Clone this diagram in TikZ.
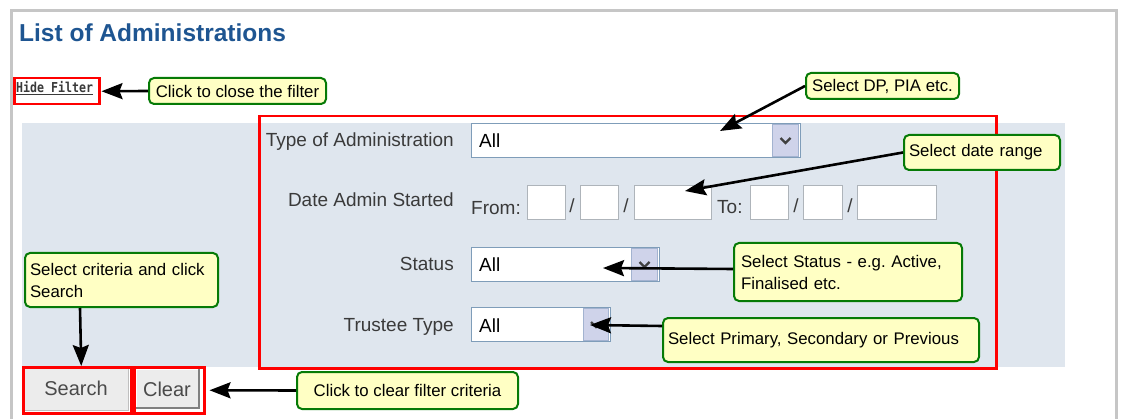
\documentclass[tikz,border=0pt]{standalone}
\usepackage{fontspec}
\setmainfont{Liberation Sans}
\newfontfamily\linkfont{DejaVu Sans Mono}
\usetikzlibrary{arrows.meta}
\frenchspacing

\definecolor{framegray}{HTML}{C6C6C6}
\definecolor{panelbg}{HTML}{DFE6EE}
\definecolor{titleblue}{HTML}{1E5591}
\definecolor{labelgray}{HTML}{3A3A3A}
\definecolor{ddborder}{HTML}{7F9DB9}
\definecolor{ddbtnfill}{HTML}{CFD3EA}
\definecolor{ddbtnborder}{HTML}{A3B3D0}
\definecolor{fieldborder}{HTML}{AEB4BA}
\definecolor{notefill}{HTML}{FFFFC4}
\definecolor{notegreen}{HTML}{067A06}
\definecolor{markred}{HTML}{FF0000}
\definecolor{btnfill}{HTML}{ECECEC}
\definecolor{btntext}{HTML}{4A4A4A}

\begin{document}
\begin{tikzpicture}[x=1pt,y=-1pt,
  lbl/.style={inner sep=0pt, text=labelgray, font=\fontsize{19}{22}\selectfont},
  val/.style={inner sep=0pt, text=black, font=\fontsize{19}{22}\selectfont},
  dd/.style={draw=ddborder, line width=1pt, fill=white, inner sep=0pt, anchor=north west},
  ddbtn/.style={draw=ddbtnborder, line width=1pt, fill=ddbtnfill, inner sep=0pt, anchor=north east},
  chev/.style={draw=black!75, line width=2.4pt},
  datefield/.style={draw=fieldborder, line width=1pt, fill=white, inner sep=0pt,
    anchor=north west, minimum height=34pt},
  note/.style={draw=notegreen, line width=2pt, fill=notefill, rounded corners=5pt,
    anchor=north west, inner xsep=5pt, inner ysep=0pt, align=left,
    font=\fontsize{16.8}{22}\selectfont},
  redmark/.style={draw=markred, line width=2.5pt, inner sep=0pt, anchor=north west},
  pointer/.style={draw=black, line width=2.6pt,
    -{Stealth[length=21pt, width=16pt, inset=3pt]}},
  btnlabel/.style={inner sep=0pt, text=btntext, font=\fontsize{20}{24}\selectfont}
]
\useasboundingbox (0,0) rectangle (1123,419);

% page frame
\draw[framegray, line width=3pt] (11,425) -- (11,11) -- (1116,11) -- (1116,425);

% heading
\node[anchor=base west, inner sep=0pt, text=titleblue,
      font=\fontsize{24.5}{28}\selectfont\bfseries] (title) at (19,42) {List of Administrations};

% filter panel
\fill[panelbg] (22,123) rectangle (1065,367);

% hide filter link
\node[anchor=base west, inner sep=0pt, text=labelgray,
      font=\linkfont\bfseries\fontsize{11.6}{14}\selectfont] (hideText) at (16,93)
      {\underline{\scalebox{1}[1.18]{Hide Filter}}};
\node[redmark, minimum width=85pt, minimum height=26pt] (hideBox) at (13,77) {};

% ---- row: type of administration
\node[lbl, anchor=base east] (typeLbl) at (454,147) {Type of Administration};
\node[dd, minimum width=329pt, minimum height=34pt] (typeBox) at (471,123) {};
\node[ddbtn, minimum width=26pt, minimum height=32pt] (typeBtn) at (799,124) {};
\draw[chev] (typeBtn.center) ++(-5,-2.5) -- ++(5,5) -- ++(5,-5);
\node[val, anchor=base west] (typeVal) at (479,148) {All};

% ---- row: date admin started
\node[lbl, anchor=base east] (dateLbl) at (454,207) {Date Admin Started};
\node[lbl, anchor=base west] (fromLbl) at (471,215) {From:};
\node[datefield, minimum width=38pt] (fromD) at (527,185) {};
\node[lbl, anchor=base] (sepA) at (572,213) {/};
\node[datefield, minimum width=38pt] (fromM) at (580,185) {};
\node[lbl, anchor=base] (sepB) at (626,213) {/};
\node[datefield, minimum width=77pt] (fromY) at (634,185) {};
\node[lbl, anchor=base west] (toLbl) at (717,214) {To:};
\node[datefield, minimum width=38pt] (toD) at (750,185) {};
\node[lbl, anchor=base] (sepC) at (796,213) {/};
\node[datefield, minimum width=39pt] (toM) at (803,185) {};
\node[lbl, anchor=base] (sepD) at (850,213) {/};
\node[datefield, minimum width=79pt] (toY) at (857,185) {};

% ---- row: status
\node[lbl, anchor=base east] (statusLbl) at (454,271) {Status};
\node[dd, minimum width=188pt, minimum height=34pt] (statusBox) at (471,247) {};
\node[ddbtn, minimum width=26pt, minimum height=32pt] (statusBtn) at (658,248) {};
\draw[chev] (statusBtn.center) ++(-5,-2.5) -- ++(5,5) -- ++(5,-5);
\node[val, anchor=base west] (statusVal) at (479,272) {All};

% ---- row: trustee type
\node[lbl, anchor=base east] (trusteeLbl) at (454,331) {Trustee Type};
\node[dd, minimum width=139pt, minimum height=34pt] (trusteeBox) at (471,307) {};
\node[ddbtn, minimum width=25pt, minimum height=32pt] (trusteeBtn) at (609,308) {};
\draw[chev] (trusteeBtn.center) ++(-5,-2.5) -- ++(5,5) -- ++(5,-5);
\node[val, anchor=base west] (trusteeVal) at (479,332) {All};

% filter criteria outline
\node[redmark, minimum width=737pt, minimum height=252pt] (filterBox) at (258,115) {};

% ---- buttons
\fill[btnfill] (24,368) rectangle (128,410);
\draw[black!25, line width=1pt] (24,368) rectangle (128,410);
\node[btnlabel] (searchText) at (76,388) {Search};
\node[redmark, minimum width=108pt, minimum height=46pt] (searchBox) at (22,366) {};

\fill[btnfill] (136,369) rectangle (199,408);
\draw[white, line width=1.5pt] (136,408) -- (136,369) -- (199,369);
\draw[black!50, line width=2.5pt] (136,408) -- (199,408) -- (199,369);
\node[btnlabel] (clearText) at (167,389) {Clear};
\node[redmark, minimum width=70pt, minimum height=46pt] (clearBox) at (133,366) {};

% ---- callouts
\node[note, minimum width=177pt, minimum height=26pt] (hideNote) at (148,77) {Click to close the filter};
\node[note, minimum width=153pt, minimum height=26pt] (dpNote) at (805,72) {Select DP, PIA etc.};
\node[note, minimum width=156pt, minimum height=35pt, text width=146pt] (dateNote) at (903,134) {Select date range};
\node[note, minimum width=227pt, minimum height=58pt, text width=214pt, inner xsep=7pt] (statusNote) at (733,242)
  {Select Status - e.g. Active,\\Finalised etc.};
\node[note, minimum width=316pt, minimum height=44pt, text width=306pt] (trusteeNote) at (662,317)
  {Select Primary, Secondary or Previous};
\node[note, minimum width=193pt, minimum height=54pt, text width=183pt] (searchNote) at (24,252)
  {Select criteria and click\\Search};
\node[note, minimum width=221pt, minimum height=37pt, align=center] (clearNote) at (296,371)
  {Click to clear filter criteria};

% ---- pointers
\coordinate (dpTip) at (720,131);
\coordinate (dateTip) at (685,191);
\coordinate (statusTip) at (603,268);
\coordinate (trusteeTip) at (590,325);

\draw[pointer] (hideNote.west) -- ([xshift=1pt]hideBox.east);
\draw[pointer] (dpNote.west) -- (dpTip);
\draw[pointer] (dateNote.west) -- (dateTip);
\draw[pointer] ([yshift=3pt]statusNote.west) -- (statusTip);
\draw[pointer] ([yshift=14pt]trusteeNote.west) -- (trusteeTip);
\draw[pointer] ([xshift=56pt]searchNote.south west) -- ([xshift=4pt]searchBox.north);
\draw[pointer] (clearNote.west) -- ([xshift=4pt]clearBox.east);
\end{tikzpicture}
\end{document}
